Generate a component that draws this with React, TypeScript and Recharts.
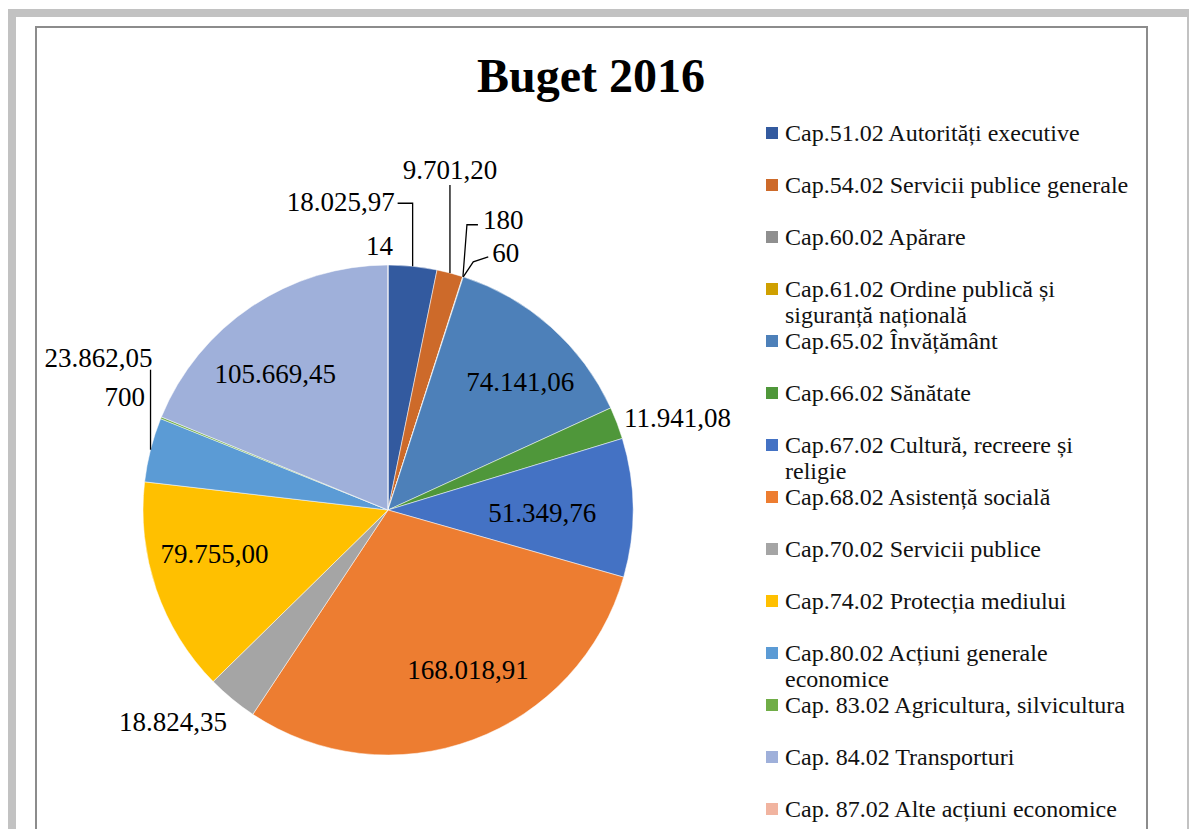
import React from 'react';
import { PieChart, Pie, Cell, Legend } from 'recharts';

const CATEGORIES = [
  'Cap.51.02 Autorități executive',
  'Cap.54.02 Servicii publice generale',
  'Cap.60.02 Apărare',
  'Cap.61.02 Ordine publică și siguranță națională',
  'Cap.65.02 Învățământ',
  'Cap.66.02 Sănătate',
  'Cap.67.02 Cultură, recreere și religie',
  'Cap.68.02 Asistență socială',
  'Cap.70.02 Servicii publice',
  'Cap.74.02 Protecția mediului',
  'Cap.80.02 Acțiuni generale economice',
  'Cap. 83.02 Agricultura, silvicultura',
  'Cap. 84.02 Transporturi',
  'Cap. 87.02 Alte acțiuni economice',
];

const VALUES = [
  18025.97, 9701.2, 180, 60, 74141.06, 11941.08, 51349.76,
  168018.91, 18824.35, 79755.0, 23862.05, 700, 105669.45, 14,
];

const VALUE_LABELS = [
  '18.025,97', '9.701,20', '180', '60', '74.141,06', '11.941,08', '51.349,76',
  '168.018,91', '18.824,35', '79.755,00', '23.862,05', '700', '105.669,45', '14',
];

const COLORS = [
  '#335A9F', '#CD6A2A', '#8F8F8F', '#CFA000', '#4D80B9', '#4F973A', '#4472C4',
  '#ED7D31', '#A5A5A5', '#FFC000', '#5B9BD5', '#70AD47', '#9FB0DA', '#F1B4A0',
];

const pieData = CATEGORIES.map((name, i) => ({ name, value: VALUES[i] }));

// label placement: 'in' = inside slice (radius factor, angle tweak), 'out' = offset from slice edge
type Lay =
  | { kind: 'in'; f: number; da: number }
  | { kind: 'out'; dx: number; dy: number; anchor: 'start' | 'middle' | 'end'; leader?: number[][] };

const LABEL_LAYOUT: Lay[] = [
  { kind: 'out', dx: -18, dy: -64, anchor: 'end', leader: [[0, 0], [0, -63], [-15, -63]] },
  { kind: 'out', dx: 0, dy: -103, anchor: 'middle', leader: [[0, 0], [0, -88]] },
  { kind: 'out', dx: 20, dy: -57, anchor: 'start', leader: [[0, 0], [4, -52], [15, -52]] },
  { kind: 'out', dx: 29, dy: -24, anchor: 'start', leader: [[0, 0], [10, -15], [25, -20]] },
  { kind: 'in', f: 0.75, da: 4.4 },
  { kind: 'out', dx: 7, dy: -5, anchor: 'start' },
  { kind: 'in', f: 0.63, da: 1.6 },
  { kind: 'in', f: 0.73, da: -6.3 },
  { kind: 'out', dx: -5, dy: 23, anchor: 'end' },
  { kind: 'in', f: 0.73, da: 4.8 },
  { kind: 'out', dx: 2, dy: -92, anchor: 'end', leader: [[0, 0], [0, -80]] },
  { kind: 'out', dx: -16, dy: -21, anchor: 'end' },
  { kind: 'in', f: 0.72, da: -5.9 },
  { kind: 'out', dx: 5, dy: -19, anchor: 'end' },
];

const RAD = Math.PI / 180;
const FONT = '"Liberation Serif", "Times New Roman", serif';

const renderLabel = (props: any) => {
  const { cx, cy, midAngle, outerRadius, index } = props;
  const lay = LABEL_LAYOUT[index];
  const cw = 90 - midAngle; // clockwise from top
  if (lay.kind === 'in') {
    const a = (cw + lay.da) * RAD;
    const r = outerRadius * lay.f;
    return (
      <text key={`l-${index}`} x={cx + r * Math.sin(a)} y={cy - r * Math.cos(a)} textAnchor="middle"
        dominantBaseline="central" fontFamily={FONT} fontSize={27} fill="#000">
        {VALUE_LABELS[index]}
      </text>
    );
  }
  const ex = cx + outerRadius * Math.sin(cw * RAD);
  const ey = cy - outerRadius * Math.cos(cw * RAD);
  return (
    <g key={`l-${index}`}>
      {lay.leader && (
        <polyline points={lay.leader.map(p => `${ex + p[0]},${ey + p[1]}`).join(' ')}
          fill="none" stroke="#000" strokeWidth={1.3} />
      )}
      <text x={ex + lay.dx} y={ey + lay.dy} textAnchor={lay.anchor} dominantBaseline="central"
        fontFamily={FONT} fontSize={27} fill="#000">
        {VALUE_LABELS[index]}
      </text>
    </g>
  );
};

const renderLegend = () => (
  <div style={{ fontFamily: FONT }}>
    {CATEGORIES.map((c, i) => (
      <div key={c} style={{ position: 'relative', height: 52 }}>
        <div style={{ position: 'absolute', left: 0, top: 7, width: 12, height: 12, background: COLORS[i] }} />
        <div style={{ position: 'absolute', left: 19, top: 0, width: 349, fontSize: 24, lineHeight: '26px', color: '#111' }}>
          {c}
        </div>
      </div>
    ))}
  </div>
);

export default function App() {
  return (
    <div style={{ position: 'absolute', left: 0, top: 0, width: 1189, height: 829, overflow: 'hidden', background: '#fff' }}>
      {/* page frame */}
      <div style={{ position: 'absolute', left: 8, top: 9, width: 1181, height: 840, background: '#c2c2c2' }} />
      <div style={{ position: 'absolute', left: 16, top: 17, width: 1171, height: 840, background: '#fff' }} />
      <div style={{ position: 'absolute', left: 35, top: 26, width: 1109, height: 840, border: '2px solid #8c8c8c', background: '#fff' }} />
      <div style={{ position: 'absolute', left: 391, top: 46, width: 400, textAlign: 'center', fontFamily: FONT, fontWeight: 'bold', fontSize: 48, lineHeight: '60px', color: '#000' }}>
        Buget 2016
      </div>
      <div style={{ position: 'absolute', left: 0, top: 0 }}>
        <PieChart width={1189} height={829} margin={{ top: 0, right: 0, bottom: 0, left: 0 }}>
          <Pie
            data={pieData}
            dataKey="value"
            nameKey="name"
            cx={388}
            cy={510}
            outerRadius={245}
            startAngle={90}
            endAngle={-270}
            stroke="#ffffff"
            strokeWidth={0.5}
            label={renderLabel}
            labelLine={false}
            isAnimationActive={false}
          >
            {pieData.map((d, i) => (
              <Cell key={d.name} fill={COLORS[i]} />
            ))}
          </Pie>
          <Legend content={renderLegend} wrapperStyle={{ position: 'absolute', left: 766, top: 120, width: 380 }} />
        </PieChart>
      </div>
    </div>
  );
}
